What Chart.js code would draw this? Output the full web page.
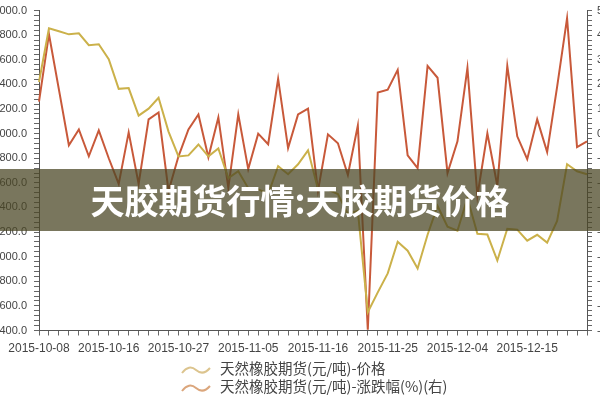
<!DOCTYPE html>
<html>
<head>
<meta charset="utf-8">
<script src="https://cdn.jsdelivr.net/npm/chart.js@4/dist/chart.umd.min.js"></script>
<style>
body { margin:0; width:600px; height:400px; overflow:hidden; background:#fff; position:relative; }
#wrap { position:absolute; left:-21px; top:-3px; width:648px; height:403px; }
#band { position:absolute; left:0; top:169px; width:600px; height:62px; background:rgba(74,70,36,0.74);
  color:#fff; font-family:"Noto Sans CJK SC", sans-serif; font-weight:bold; font-size:34px; line-height:62px; text-align:center; }
.lg { position:absolute; left:180px; height:17px; font-family:"Noto Sans CJK SC", sans-serif; font-size:14.5px; color:#444; line-height:17px; white-space:nowrap; }
.lg svg { vertical-align:middle; margin-right:8px; }
</style>
</head>
<body>
<div id="wrap"><canvas id="myChart" width="648" height="403"></canvas></div>
<div id="band">天胶期货行情:天胶期货价格</div>
<div class="lg" style="top:359px"><svg width="32" height="14"><path d="M2 10 Q9 1 16 7 T30 5" fill="none" stroke="#dcc48e" stroke-width="2"/></svg>天然橡胶期货(元/吨)-价格</div>
<div class="lg" style="top:377px"><svg width="32" height="14"><path d="M2 10 Q9 1 16 7 T30 5" fill="none" stroke="#dba67c" stroke-width="2"/></svg>天然橡胶期货(元/吨)-涨跌幅(%)(右)</div>
<script>
// trading days (labels shown every 7th)
const dates = ['2015-10-08','2015-10-09','2015-10-10','2015-10-12','2015-10-13','2015-10-14','2015-10-15',
  '2015-10-16','2015-10-19','2015-10-20','2015-10-21','2015-10-22','2015-10-23','2015-10-26',
  '2015-10-27','2015-10-28','2015-10-29','2015-10-30','2015-11-02','2015-11-03','2015-11-04',
  '2015-11-05','2015-11-06','2015-11-09','2015-11-10','2015-11-11','2015-11-12','2015-11-13',
  '2015-11-16','2015-11-17','2015-11-18','2015-11-19','2015-11-20','2015-11-23','2015-11-24',
  '2015-11-25','2015-11-26','2015-11-27','2015-11-30','2015-12-01','2015-12-02','2015-12-03',
  '2015-12-04','2015-12-07','2015-12-08','2015-12-09','2015-12-10','2015-12-11','2015-12-14',
  '2015-12-15','2015-12-16','2015-12-17','2015-12-18','2015-12-21','2015-12-22','2015-12-23'];

// price (yuan/ton), left axis
const price = [11420, 11856, 11832, 11807, 11815, 11719, 11727, 11606, 11364, 11370, 11146, 11203, 11291, 11017,
  10815, 10823, 10912, 10815, 10880, 10638, 10694, 10557, 10549, 10509, 10735, 10670, 10751, 10864,
  10549, 10545, 10509, 10348, 10372, 9549, 9710, 9864, 10122, 10049, 9904, 10178, 10412, 10243,
  10211, 10477, 10186, 10180, 9969, 10227, 10220, 10130, 10178, 10114, 10291, 10751, 10694, 10670];

// daily change (%), right axis
const change = [1.30, 4.04, 1.79, -0.47, 0.17, -0.92, 0.13, -1.0, -2.04, 0.05, -2.04, 0.58, 0.86, -2.33,
  -0.92, 0.17, 0.78, -0.96, 0.66, -2.2, 0.78, -1.44, 0.0, -0.43, 2.23, -0.59, 0.78, 1.02,
  -2.33, -0.03, -0.39, -1.68, 0.33, -7.97, 1.67, 1.79, 2.59, -0.88, -1.40, 2.75, 2.27, -1.60,
  -0.31, 2.67, -2.53, 0.01, -2.12, 2.75, -0.11, -1.04, 0.58, -0.75, 1.9, 4.69, -0.55, -0.31];

const priceRange = [9400, 12000];
const changeRange = [-8, 5];

const axisFont = { family: 'Arial, "Liberation Sans", sans-serif', size: 11 };
const isWhole = (v, step) => Math.abs(v / step - Math.round(v / step)) < 1e-6;

const ctx = document.getElementById('myChart').getContext('2d');
const data = {
  labels: dates,
  datasets: [{
    label: '天然橡胶期货(元/吨)-价格',
    data: price,
    yAxisID: 'y',
    borderColor: '#cbb14a',
    borderWidth: 2,
    pointRadius: 0,
    tension: 0
  }, {
    label: '天然橡胶期货(元/吨)-涨跌幅(%)(右)',
    data: change,
    yAxisID: 'y1',
    borderColor: '#c8593a',
    borderWidth: 2,
    pointRadius: 0,
    tension: 0
  }]
};

const config = {
  type: 'line',
  data: data,
  options: {
    responsive: false,
    animation: false,
    layout: { padding: { top: 5, bottom: 39.5, left: 0, right: 0 } },
    plugins: { legend: { display: false }, tooltip: { enabled: false } },
    scales: {
      x: {
        offset: false,
        grid: { drawOnChartArea: false, tickLength: 5, color: '#666' },
        border: { color: '#555' },
        ticks: {
          autoSkip: false, maxRotation: 0, padding: 6, color: '#444',
          font: { family: axisFont.family, size: 12 },
          callback: function(v, i) { return i % 7 === 0 ? dates[i] : ''; }
        },
        afterFit: function(s) { s.height = 30; }
      },
      y: {
        position: 'left',
        min: priceRange[0], max: priceRange[1],
        grid: { drawOnChartArea: false, tickLength: 5, color: '#666' },
        border: { color: '#555' },
        ticks: {
          stepSize: 40, autoSkip: false, maxTicksLimit: 200, padding: 7, color: '#444', font: axisFont,
          callback: function(v) { return isWhole(v, 200) ? v.toFixed(1) : ''; }
        },
        afterFit: function(s) { s.width = 60; }
      },
      y1: {
        position: 'right',
        min: changeRange[0], max: changeRange[1],
        grid: { drawOnChartArea: false, tickLength: 5, color: '#666' },
        border: { color: '#555' },
        ticks: {
          stepSize: 0.2, autoSkip: false, maxTicksLimit: 200, padding: 5, color: '#444', font: axisFont,
          callback: function(v) { return isWhole(v, 1) ? Math.round(v).toFixed(1) : ''; }
        },
        afterFit: function(s) { s.width = 40; }
      }
    }
  }
};

const myChart = new Chart(ctx, config);
</script>
</body>
</html>
